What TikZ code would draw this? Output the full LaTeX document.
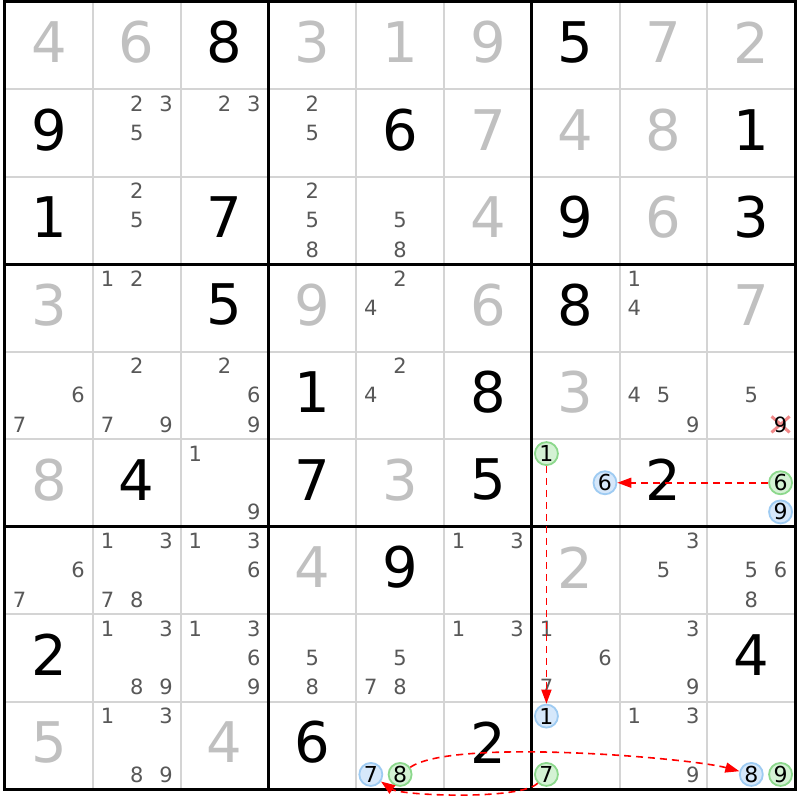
\documentclass[tikz,border=0pt]{standalone}
\usepackage{fontspec}
\setmainfont{DejaVu Sans}
\usetikzlibrary{arrows.meta}
\definecolor{solvedgray}{HTML}{C0C0C0}
\definecolor{pencilgray}{HTML}{585858}
\definecolor{gridgray}{HTML}{D4D4D4}
\definecolor{ongreen}{HTML}{D4F2D4}
\definecolor{onedge}{HTML}{8CD88C}
\definecolor{offblue}{HTML}{D6E8FB}
\definecolor{offedge}{HTML}{9ECBF2}
\definecolor{strikered}{HTML}{F08888}
\begin{document}
\begin{tikzpicture}[x=87.8pt,y=87.5pt,
    given/.style={font=\fontsize{56}{56}\selectfont,inner sep=0pt,yshift=3pt},
    solved/.style={given,text=solvedgray},
    cand/.style={font=\fontsize{21}{21}\selectfont,inner sep=0pt,text=pencilgray},
    oncand/.style={circle,draw=onedge,fill=ongreen,line width=1.8pt,minimum size=23pt,inner sep=0pt,font=\fontsize{22}{22}\selectfont},
    offcand/.style={oncand,draw=offedge,fill=offblue},
    link/.style={red,line width=1.6pt,dash pattern=on 7pt off 5pt,-{Triangle[length=14pt,width=10pt]}}]
  \fill[white] (-0.05695,0.01714) rectangle (9.05467,-9.12571);
  \useasboundingbox (-0.05695,0.01714) rectangle (9.05467,-9.12571);
  \foreach \i in {1,2,4,5,7,8} {
    \draw[gridgray,line width=2pt] (\i,0) -- (\i,-9);
    \draw[gridgray,line width=2pt] (0,-\i) -- (9,-\i);
  }
  \foreach \i in {3,6} {
    \draw[line width=3pt] (\i,0) -- (\i,-9);
    \draw[line width=3pt] (0,-\i) -- (9,-\i);
  }
  \draw[line width=3pt] (0,0) rectangle (9,-9);
  \draw
    (2.5,-0.5) node[given] (v13){8}
    (6.5,-0.5) node[given] (v17){5}
    (0.5,-1.5) node[given] (v21){9}
    (4.5,-1.5) node[given] (v25){6}
    (8.5,-1.5) node[given] (v29){1}
    (0.5,-2.5) node[given] (v31){1}
    (2.5,-2.5) node[given] (v33){7}
    (6.5,-2.5) node[given] (v37){9}
    (8.5,-2.5) node[given] (v39){3}
    (2.5,-3.5) node[given] (v43){5}
    (6.5,-3.5) node[given] (v47){8}
    (3.5,-4.5) node[given] (v54){1}
    (5.5,-4.5) node[given] (v56){8}
    (1.5,-5.5) node[given] (v62){4}
    (3.5,-5.5) node[given] (v64){7}
    (5.5,-5.5) node[given] (v66){5}
    (7.5,-5.5) node[given] (v68){2}
    (4.5,-6.5) node[given] (v75){9}
    (0.5,-7.5) node[given] (v81){2}
    (8.5,-7.5) node[given] (v89){4}
    (3.5,-8.5) node[given] (v94){6}
    (5.5,-8.5) node[given] (v96){2};
  \draw
    (0.5,-0.5) node[solved] (v11){4}
    (1.5,-0.5) node[solved] (v12){6}
    (3.5,-0.5) node[solved] (v14){3}
    (4.5,-0.5) node[solved] (v15){1}
    (5.5,-0.5) node[solved] (v16){9}
    (7.5,-0.5) node[solved] (v18){7}
    (8.5,-0.5) node[solved] (v19){2}
    (5.5,-1.5) node[solved] (v26){7}
    (6.5,-1.5) node[solved] (v27){4}
    (7.5,-1.5) node[solved] (v28){8}
    (5.5,-2.5) node[solved] (v36){4}
    (7.5,-2.5) node[solved] (v38){6}
    (0.5,-3.5) node[solved] (v41){3}
    (3.5,-3.5) node[solved] (v44){9}
    (5.5,-3.5) node[solved] (v46){6}
    (8.5,-3.5) node[solved] (v49){7}
    (6.5,-4.5) node[solved] (v57){3}
    (0.5,-5.5) node[solved] (v61){8}
    (4.5,-5.5) node[solved] (v65){3}
    (3.5,-6.5) node[solved] (v74){4}
    (6.5,-6.5) node[solved] (v77){2}
    (0.5,-8.5) node[solved] (v91){5}
    (2.5,-8.5) node[solved] (v93){4};
  \foreach \r/\c/\k in {2/2/2,2/2/3,2/2/5,2/3/2,2/3/3,2/4/2,2/4/5,
      3/2/2,3/2/5,3/4/2,3/4/5,3/4/8,3/5/5,3/5/8,
      4/2/1,4/2/2,4/5/2,4/5/4,4/8/1,4/8/4,
      5/1/6,5/1/7,5/2/2,5/2/7,5/2/9,5/3/2,5/3/6,5/3/9,5/5/2,5/5/4,5/8/4,5/8/5,5/8/9,5/9/5,
      6/3/1,6/3/9,
      7/1/6,7/1/7,7/2/1,7/2/3,7/2/7,7/2/8,7/3/1,7/3/3,7/3/6,7/6/1,7/6/3,7/8/3,7/8/5,7/9/5,7/9/6,7/9/8,
      8/2/1,8/2/3,8/2/8,8/2/9,8/3/1,8/3/3,8/3/6,8/3/9,8/4/5,8/4/8,8/5/5,8/5/7,8/5/8,8/6/1,8/6/3,8/7/1,8/7/6,8/7/7,8/8/3,8/8/9,
      9/2/1,9/2/3,9/2/8,9/2/9,9/8/1,9/8/3,9/8/9}
    \node[cand] (p\r\c\k) at ({\c-0.5+(mod(\k-1,3)-1)/3},{0.5-\r+(1-floor((\k-1)/3))/3}) {\k};
  \draw[strikered,line width=3pt] (8.8333,-4.8333) +(-9pt,-8pt) -- +(9pt,8pt) +(-9pt,8pt) -- +(9pt,-8pt);
  \node[cand,text=black] (p599) at (8.8333,-4.8333) {9};
  \node[oncand] (on671) at (6.1667,-5.1667) {1};
  \node[offcand] (off676) at (6.8333,-5.5) {6};
  \node[oncand] (on696) at (8.8333,-5.5) {6};
  \node[offcand] (off699) at (8.8333,-5.8333) {9};
  \node[offcand] (off957) at (4.1667,-8.8333) {7};
  \node[oncand] (on958) at (4.5,-8.8333) {8};
  \node[offcand] (off971) at (6.1667,-8.1667) {1};
  \node[oncand] (on977) at (6.1667,-8.8333) {7};
  \node[offcand] (off998) at (8.5,-8.8333) {8};
  \node[oncand] (on999) at (8.8333,-8.8333) {9};
  \draw[link] (on696) -- (off676);
  \draw[link] (on671) -- (off971);
  \draw[link] (on958) to[out=35,in=165,looseness=0.4] (off998);
  \draw[link] (on977) to[out=-135,in=-35,looseness=0.4] (off957);
\end{tikzpicture}
\end{document}
